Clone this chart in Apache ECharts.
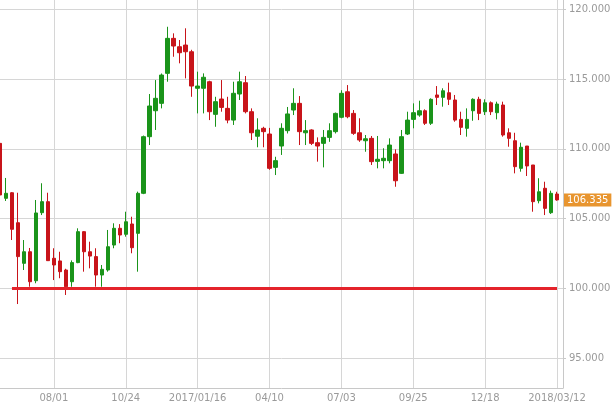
<!DOCTYPE html>
<html>
<head>
<meta charset="utf-8">
<script src="https://cdn.jsdelivr.net/npm/echarts@6/dist/echarts.min.js"></script>
<style>
html,body{margin:0;padding:0;background:#fff;}
#chart{width:616px;height:407px;}
</style>
</head>
<body>
<div id="chart"></div>
<script>
// Weekly candles, first week 2016/05/30
const startWeek = '2016/05/30';
const openVals = [110.39,106.45,106.85,104.70,101.79,102.62,100.54,105.42,106.21,102.15,
  101.96,101.31,100.47,101.84,104.06,102.62,102.27,100.95,101.31,103.10,
  104.30,103.87,104.61,103.94,106.81,110.87,112.73,113.26,115.41,117.92,
  117.32,117.44,116.96,114.34,114.34,114.81,112.47,113.57,112.90,112.06,
  113.93,114.74,112.66,110.90,111.47,111.06,108.67,110.20,111.30,112.78,
  113.26,111.15,111.35,110.44,110.39,110.82,111.23,112.26,114.09,112.54,
  111.15,110.58,110.75,109.10,109.15,109.15,109.63,108.24,111.06,112.11,
  112.42,112.73,111.83,113.86,113.69,114.02,113.50,112.11,111.47,112.73,
  113.55,112.66,113.30,112.59,113.14,111.15,110.58,108.60,110.20,108.84,
  106.28,107.17,105.42,106.76];
const closeVals = [106.69,106.81,104.23,102.27,102.62,100.47,105.40,106.21,101.98,101.67,
  101.19,100.11,101.84,104.06,102.62,102.31,100.95,101.36,102.98,104.30,
  103.82,104.77,102.91,106.81,110.87,113.07,113.62,115.29,117.92,117.37,
  116.89,116.96,114.50,114.50,115.13,112.66,113.38,112.97,112.06,113.98,
  114.81,112.66,111.15,111.35,111.23,108.60,109.15,111.47,112.50,113.26,
  111.23,111.30,110.39,110.20,110.82,111.30,112.54,113.98,112.30,111.11,
  110.63,110.72,109.08,109.25,109.32,110.27,107.71,110.87,112.06,112.59,
  112.73,111.83,113.55,113.69,114.16,113.55,112.06,111.54,112.11,113.55,
  112.54,113.30,112.66,113.21,110.99,110.75,108.72,110.11,108.77,106.21,
  106.92,105.73,106.81,106.335];
const lowVals = [106.55,106.26,103.46,98.87,101.31,100.11,100.36,105.25,101.98,100.59,
  100.72,99.52,100.11,101.80,101.19,101.43,100.11,100.11,101.19,102.87,
  103.23,103.70,102.51,101.19,106.75,110.27,111.35,112.90,114.81,116.60,
  116.13,115.05,113.73,112.54,112.54,112.06,111.58,112.66,111.83,111.71,
  113.50,112.54,110.63,110.11,110.11,108.50,108.12,109.56,111.10,112.42,
  110.27,110.27,110.27,109.08,108.67,110.50,111.10,112.19,112.19,111.00,
  110.50,109.79,108.84,108.60,108.60,108.96,107.28,108.20,110.99,111.47,
  112.30,111.71,111.71,113.14,113.02,113.14,111.94,110.99,110.87,112.01,
  112.06,112.42,112.42,112.11,110.87,110.15,108.24,108.36,108.05,105.49,
  106.09,105.25,105.33,106.28];
const highVals = [110.45,107.91,106.90,106.85,103.46,102.89,106.33,107.53,106.85,102.87,
  102.62,101.40,102.00,104.30,104.10,103.34,102.87,101.67,104.18,104.66,
  104.60,105.49,105.13,106.93,110.95,113.93,114.93,115.40,118.75,118.28,
  117.80,118.64,117.10,115.53,115.41,114.88,113.73,114.93,113.73,114.81,
  115.53,115.22,112.90,112.19,111.58,111.50,109.43,111.83,113.00,114.34,
  113.78,112.06,111.40,110.82,111.35,111.83,112.60,114.20,114.57,112.78,
  112.19,110.99,110.92,110.92,110.04,110.75,109.96,111.35,112.66,113.26,
  113.45,112.83,113.62,114.50,114.34,114.74,113.86,112.66,112.90,113.62,
  113.73,113.55,113.40,113.38,113.38,111.47,111.15,110.44,110.20,108.84,
  107.89,107.64,107.00,106.92];
const tickDates = ['2016/08/01','2016/10/24','2017/01/16','2017/04/10','2017/07/03','2017/09/25','2017/12/18','2018/03/12'];
const tickLabels = ['08/01','10/24','2017/01/16','04/10','07/03','09/25','12/18','2018/03/12'];
const yTickValues = [95,100,105,110,115,120];
const supportLevel = 100;
const supportFrom = '2016/06/13';
const lastPrice = 106.335;

// build weekly category list (+1 empty trailing week)
function fmt(d){const m=('0'+(d.getMonth()+1)).slice(-2), dd=('0'+d.getDate()).slice(-2);return d.getFullYear()+'/'+m+'/'+dd;}
const categories = [];
{
  const p = startWeek.split('/').map(Number);
  let d = new Date(p[0], p[1]-1, p[2], 12);
  for (let i = 0; i < openVals.length + 1; i++) {
    categories.push(fmt(d));
    d = new Date(d.getFullYear(), d.getMonth(), d.getDate() + 7, 12);
  }
}
const candleData = openVals.map((o,i)=>[o, closeVals[i], lowVals[i], highVals[i]]);
candleData.push('-');
const lastDate = categories[openVals.length - 1];
const tickMap = {};
tickDates.forEach((d,i)=>tickMap[d]=tickLabels[i]);

const GREEN = '#1a941a', RED = '#c8141a';
const chart = echarts.init(document.getElementById('chart'), null, {renderer:'canvas'});
chart.setOption({
  animation: false,
  backgroundColor: '#fff',
  grid: {left: -2, right: 53, top: 0, bottom: 19, containLabel: false},
  xAxis: {
    type: 'category',
    data: categories,
    boundaryGap: false,
    axisLine: {show: true, lineStyle: {color: '#c8c8c8'}},
    axisTick: {show: false},
    axisLabel: {
      interval: (idx) => tickMap[categories[idx]] !== undefined,
      formatter: (val) => tickMap[val] || '',
      color: '#9a9a9a', fontSize: 10, fontFamily: 'DejaVu Sans', margin: 5
    },
    splitLine: {show: true, interval: (idx) => tickMap[categories[idx]] !== undefined,
      lineStyle: {color: '#d6d6d6', width: 1}}
  },
  yAxis: {
    type: 'value',
    position: 'right',
    min: 92.85, max: 120.67,
    splitNumber: 5,
    axisLine: {show: true, lineStyle: {color: '#c8c8c8'}},
    axisTick: {show: true, length: 3, lineStyle: {color: '#c8c8c8'}},
    axisLabel: {
      showMinLabel: false, showMaxLabel: false,
      formatter: (v) => yTickValues.indexOf(Math.round(v*1000)/1000) >= 0 ? v.toFixed(3) : '',
      color: '#9a9a9a', fontSize: 10, fontFamily: 'DejaVu Sans', margin: 6
    },
    splitLine: {show: true, showMinLine: false, showMaxLine: false, lineStyle: {color: '#d6d6d6', width: 1}}
  },
  series: [{
    type: 'candlestick',
    data: candleData,
    barWidth: 4,
    itemStyle: {color: GREEN, color0: RED, borderColor: GREEN, borderColor0: RED, borderWidth: 1},
    markLine: {
      silent: true,
      symbol: ['none','none'],
      animation: false,
      data: [
        [
          {coord: [supportFrom, supportLevel], lineStyle: {color: '#e4232b', width: 3, type: 'solid'}, label: {show: false}},
          {coord: [lastDate, supportLevel]}
        ],
        {
          yAxis: lastPrice,
          lineStyle: {color: 'rgba(0,0,0,0)', width: 1, type: 'solid'},
          label: {
            show: true, position: 'end', distance: 1,
            formatter: () => lastPrice.toFixed(3),
            color: '#ffffff', backgroundColor: '#e8952f', opacity: 1,
            padding: [2, 3, 1, 3], fontSize: 10, fontFamily: 'DejaVu Sans'
          }
        }
      ]
    }
  }]
});
</script>
</body>
</html>
